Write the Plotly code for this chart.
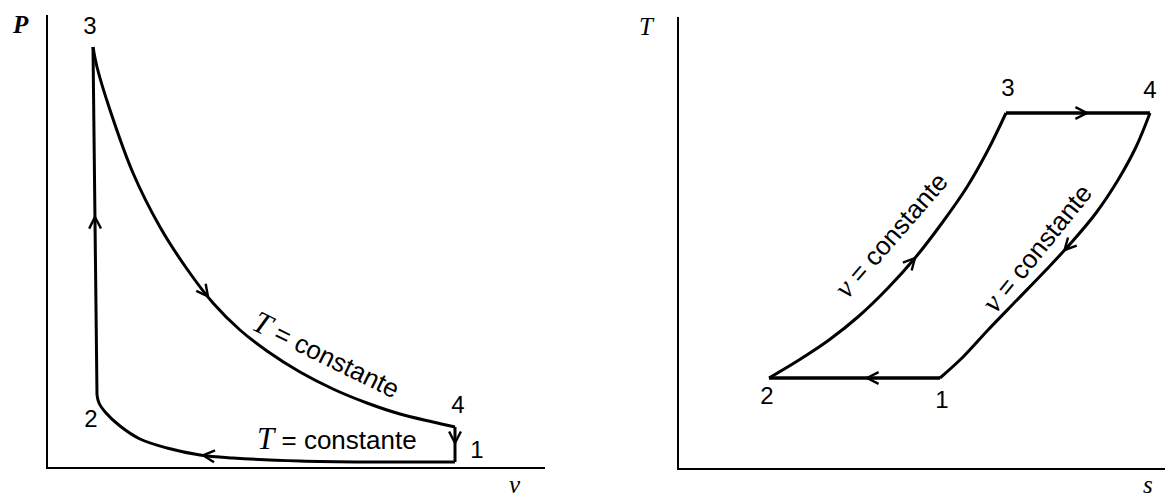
import math
import plotly.graph_objects as go

# ---- P-v diagram (Stirling cycle), arbitrary units ----
# isothermal expansion 3 -> 4 (high temperature)
v_34 = [45, 49, 62, 85, 112, 139, 165, 192, 219, 252, 285, 319, 352, 385, 407]
P_34 = [420, 400, 357, 294, 240, 198, 164, 137, 116, 95, 78, 64, 53, 45, 40]
# constant-volume cooling 4 -> 1
v_41 = [407, 407]
P_41 = [40, 5]
# isothermal compression 1 -> 2 (low temperature)
v_12 = [407, 319, 252, 185, 152, 119, 92, 72, 58, 51, 49]
P_12 = [5, 5, 6, 9, 12, 19, 28, 41, 54, 64, 72]
# constant-volume heating 2 -> 3
v_23 = [49, 45]
P_23 = [72, 420]

pv_state_labels = ["1", "2", "3", "4"]
pv_label_v = [429, 43, 42, 410]
pv_label_P = [15, 46, 439, 60]

# ---- T-s diagram, arbitrary units ----
s_23 = [90, 120, 150, 180, 209, 236, 263, 288, 309, 327]
T_23 = [90, 108, 128, 152, 180, 210, 245, 281, 318, 355]
s_34 = [327, 471]
T_34 = [355, 355]
s_41 = [471, 457, 439, 417, 392, 367, 338, 309, 284, 261]
T_41 = [355, 321, 288, 255, 225, 198, 168, 138, 111, 90]
s_12 = [261, 90]
T_12 = [90, 90]

ts_state_labels = ["1", "2", "3", "4"]
ts_label_s = [263, 88, 329, 471]
ts_label_T = [66, 70, 378, 376]

BLACK = "#000000"
SANS = "Liberation Sans, Arial, sans-serif"
SERIF = "Liberation Serif, Times New Roman, serif"

fig = go.Figure()


def add_path(xs, ys, xa, ya, width=3, spline=True):
    fig.add_trace(go.Scatter(
        x=xs, y=ys, xaxis=xa, yaxis=ya, mode="lines",
        line=dict(color=BLACK, width=width,
                  shape="spline" if spline else "linear", smoothing=1.0),
        hoverinfo="skip", showlegend=False))


def arrow_on(xs, ys, key, value, xa, ya, length=13, half_angle=27):
    """Open V arrowhead on the polyline where coordinate `key` reaches `value`,
    pointing along the direction of travel."""
    coords = xs if key == "x" else ys
    for i in range(len(coords) - 1):
        a, b = coords[i], coords[i + 1]
        if (a - value) * (b - value) <= 0 and a != b:
            t = (value - a) / (b - a)
            tx = xs[i] + t * (xs[i + 1] - xs[i])
            ty = ys[i] + t * (ys[i + 1] - ys[i])
            ang = math.atan2(ys[i + 1] - ys[i], xs[i + 1] - xs[i])
            break
    else:
        return
    bx, by = [], []
    for sgn in (1, -1):
        th = ang + math.pi + sgn * math.radians(half_angle)
        bx += [tx + length * math.cos(th), tx, None]
        by += [ty + length * math.sin(th), ty, None]
    fig.add_trace(go.Scatter(
        x=bx, y=by, xaxis=xa, yaxis=ya, mode="lines",
        line=dict(color=BLACK, width=2.4), hoverinfo="skip", showlegend=False))


# P-v cycle
add_path(v_34, P_34, "x", "y")
add_path(v_41, P_41, "x", "y", spline=False)
add_path(v_12, P_12, "x", "y")
add_path(v_23, P_23, "x", "y", spline=False)
arrow_on(v_23, P_23, "y", 250, "x", "y")
arrow_on(v_34, P_34, "x", 160, "x", "y")
arrow_on(v_41, P_41, "y", 24, "x", "y")
arrow_on(v_12, P_12, "x", 155, "x", "y")

# T-s cycle
add_path(s_23, T_23, "x2", "y2")
add_path(s_34, T_34, "x2", "y2", width=3.5, spline=False)
add_path(s_41, T_41, "x2", "y2")
add_path(s_12, T_12, "x2", "y2", width=3.5, spline=False)
arrow_on(s_34, T_34, "x", 408, "x2", "y2")
arrow_on(s_23, T_23, "x", 236, "x2", "y2")
arrow_on(s_41, T_41, "y", 218, "x2", "y2")
arrow_on(s_12, T_12, "x", 188, "x2", "y2")

# state point numbers
fig.add_trace(go.Scatter(
    x=pv_label_v, y=pv_label_P, text=pv_state_labels, mode="text",
    xaxis="x", yaxis="y", textfont=dict(family=SANS, size=24, color=BLACK),
    hoverinfo="skip", showlegend=False))
fig.add_trace(go.Scatter(
    x=ts_label_s, y=ts_label_T, text=ts_state_labels, mode="text",
    xaxis="x2", yaxis="y2", textfont=dict(family=SANS, size=24, color=BLACK),
    hoverinfo="skip", showlegend=False))

iso_T = (f'<span style="font-family:{SERIF};font-size:31px"><i>T</i></span>'
         ' = constante')
iso_v = (f'<span style="font-family:{SERIF};font-size:30px"><i>v</i></span>'
         ' = constante')
label_font = dict(family=SANS, size=26, color=BLACK)

annotations = [
    dict(x=279, y=113, xref="x", yref="y", text=iso_T, textangle=26,
         showarrow=False, font=label_font),
    dict(x=289, y=29, xref="x", yref="y", text=iso_T, textangle=0,
         showarrow=False, font=label_font),
    dict(x=211, y=234, xref="x2", yref="y2", text=iso_v, textangle=-49,
         showarrow=False, font=label_font),
    dict(x=357, y=221, xref="x2", yref="y2", text=iso_v, textangle=-51,
         showarrow=False, font=label_font),
    # axis titles
    dict(x=20, y=25, xref="paper", yref="paper", text="<b><i>P</i></b>",
         showarrow=False, font=dict(family=SERIF, size=25, color=BLACK)),
    dict(x=515, y=484, xref="paper", yref="paper", text="<i>v</i>",
         showarrow=False, font=dict(family=SERIF, size=25, color=BLACK)),
    dict(x=647, y=27, xref="paper", yref="paper", text="<i>T</i>",
         showarrow=False, font=dict(family=SERIF, size=25, color=BLACK)),
    dict(x=1148, y=484, xref="paper", yref="paper", text="<i>s</i>",
         showarrow=False, font=dict(family=SERIF, size=25, color=BLACK)),
]

W, H = 1165, 502
# convert pixel-based paper positions for the axis titles
for a in annotations:
    if a["xref"] == "paper":
        a["x"] = a["x"] / W
        a["y"] = 1 - a["y"] / H
        a["xanchor"] = "center"
        a["yanchor"] = "middle"

axis_common = dict(showline=True, linewidth=2.2, linecolor=BLACK, showgrid=False,
                   zeroline=False, showticklabels=False, ticks="", fixedrange=True)

fig.update_layout(
    width=W, height=H,
    margin=dict(l=0, r=0, t=0, b=0),
    paper_bgcolor="white", plot_bgcolor="white",
    showlegend=False,
    xaxis=dict(domain=[48 / W, 545 / W], range=[0, 497], anchor="y", **axis_common),
    yaxis=dict(domain=[1 - 467 / H, 1 - 15 / H], range=[0, 452], anchor="x", **axis_common),
    xaxis2=dict(domain=[679 / W, 1.0], range=[0, 486], anchor="y2", **axis_common),
    yaxis2=dict(domain=[1 - 468 / H, 1 - 17 / H], range=[0, 451], anchor="x2", **axis_common),
    annotations=annotations,
)

fig.write_html("out.html")
